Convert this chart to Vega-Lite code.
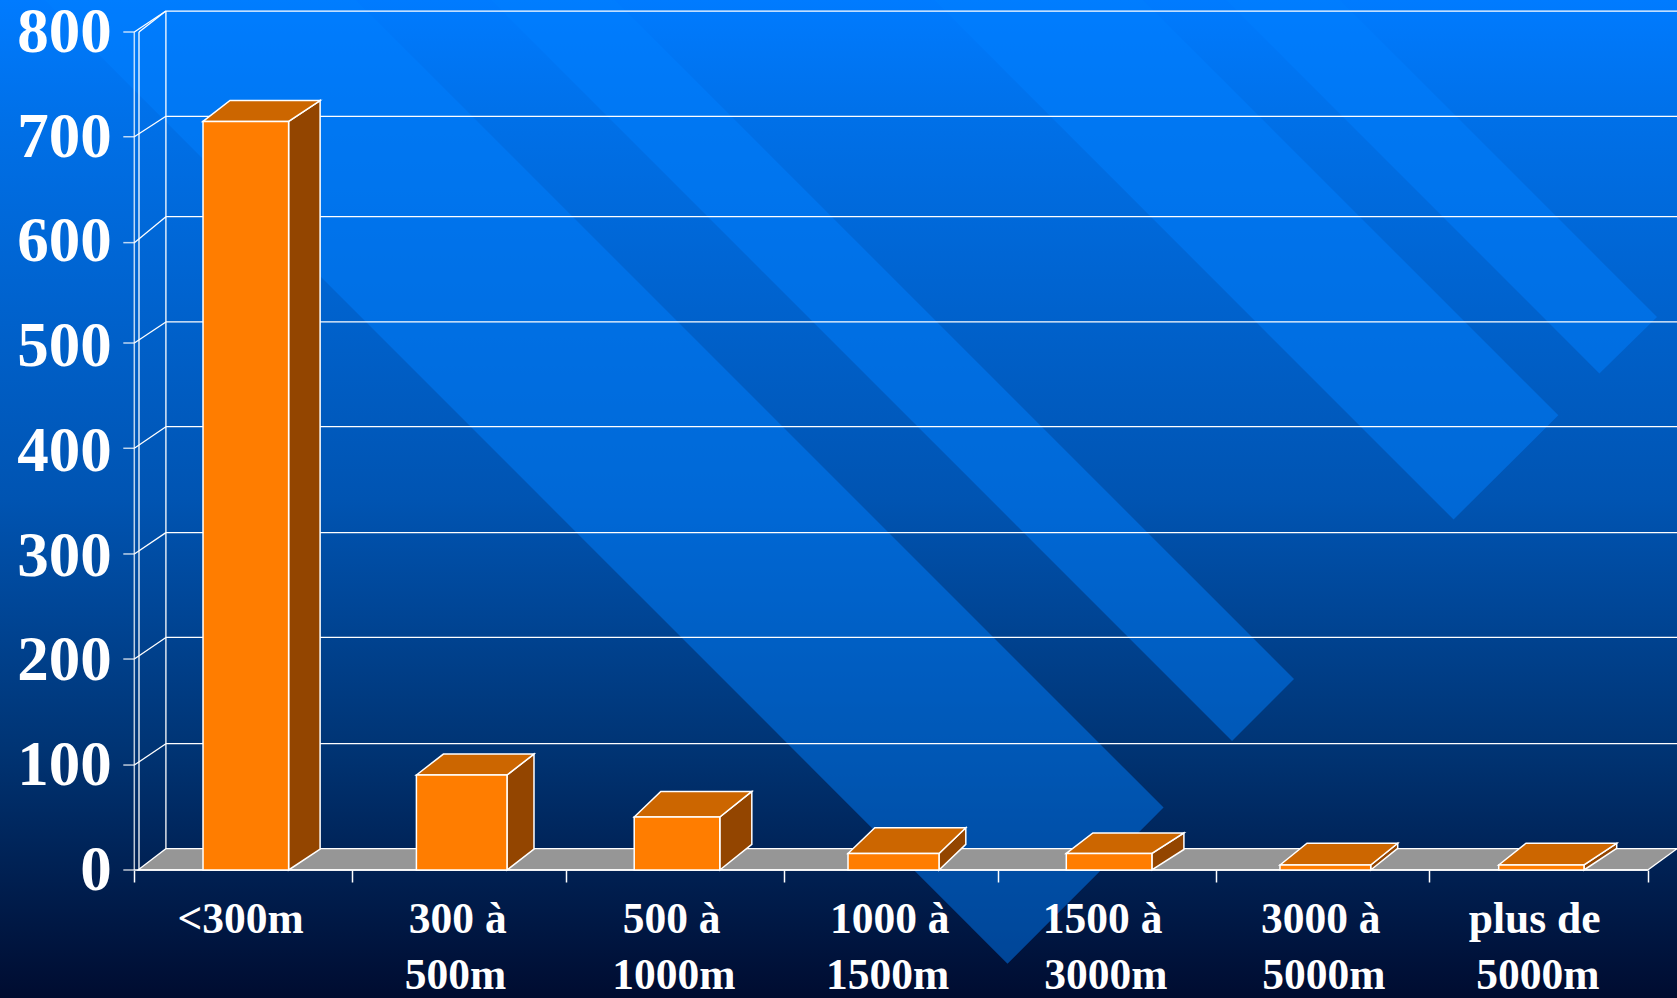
{"$schema":"https://vega.github.io/schema/vega-lite/v6.json","width":1677,"height":998,"autosize":{"type":"none"},"padding":0,"background":"#001030","config":{"view":{"stroke":null}},
"datasets":{
"panel":[{"x":-0.6212,"x2":7.1355,"y":830.55,"y2":-122.2}],
"bands":[
{"b":1,"x":-0.4172,"top":830.55,"bot":830.55},{"b":1,"x":1.0254,"top":830.55,"bot":532.7},{"b":1,"x":4.0389,"top":208.6,"bot":-89.4},{"b":1,"x":4.7608,"top":59.6,"bot":59.6},
{"b":2,"x":1.6499,"top":830.55,"bot":830.55},{"b":2,"x":2.2234,"top":830.55,"bot":712.2},{"b":2,"x":5.0773,"top":241.5,"bot":123.2},{"b":2,"x":5.364,"top":182.3,"bot":182.3},
{"b":3,"x":3.6991,"top":830.55,"bot":830.55},{"b":3,"x":4.666,"top":830.55,"bot":631},{"b":3,"x":6.1018,"top":534.1,"bot":334.6},{"b":3,"x":6.5865,"top":434.1,"bot":434.1},
{"b":4,"x":5.0495,"top":830.55,"bot":830.55},{"b":4,"x":5.5768,"top":830.55,"bot":721.7},{"b":4,"x":6.7766,"top":582.9,"bot":474.1},{"b":4,"x":7.043,"top":527.9,"bot":527.9}],
"frame":[
{"x":0.1462,"x2":7.1355,"y":820,"y2":820},{"x":0.1462,"x2":7.1355,"y":719.5,"y2":719.5},{"x":0.1462,"x2":7.1355,"y":623.7,"y2":623.7},{"x":0.1462,"x2":7.1355,"y":523.2,"y2":523.2},{"x":0.1462,"x2":7.1355,"y":423.2,"y2":423.2},{"x":0.1462,"x2":7.1355,"y":322.1,"y2":322.1},{"x":0.1462,"x2":7.1355,"y":222,"y2":222},{"x":0.1462,"x2":7.1355,"y":120.6,"y2":120.6},
{"x":0,"x2":0.1462,"y":800,"y2":820},{"x":0.0217,"x2":0.1462,"y":800,"y2":820},{"x":0,"x2":0.1462,"y":700,"y2":719.5},{"x":0,"x2":0.1462,"y":598.9,"y2":623.7},{"x":0,"x2":0.1462,"y":503.1,"y2":523.2},{"x":0,"x2":0.1462,"y":402.6,"y2":423.2},{"x":0,"x2":0.1462,"y":301.7,"y2":322.1},{"x":0,"x2":0.1462,"y":201.4,"y2":222},{"x":0,"x2":0.1462,"y":100.2,"y2":120.6},
{"x":0.0217,"x2":0.0217,"y":0,"y2":800},{"x":0.1462,"x2":0.1462,"y":20.33,"y2":820}],
"wall":[
{"x":0,"x2":0,"y":0,"y2":800},
{"x":-0.0509,"x2":0,"y":800,"y2":800},{"x":-0.0509,"x2":0,"y":700,"y2":700},{"x":-0.0509,"x2":0,"y":598.9,"y2":598.9},{"x":-0.0509,"x2":0,"y":503.1,"y2":503.1},{"x":-0.0509,"x2":0,"y":402.6,"y2":402.6},{"x":-0.0509,"x2":0,"y":301.7,"y2":301.7},{"x":-0.0509,"x2":0,"y":201.4,"y2":201.4},{"x":-0.0509,"x2":0,"y":100.2,"y2":100.2},{"x":-0.0509,"x2":0,"y":0,"y2":0}],
"floor":[{"x":0.0171,"top":0,"bot":0},{"x":0.1462,"top":20.33,"bot":0},{"x":7,"top":20.33,"bot":0},{"x":7.1355,"top":20.33,"bot":20.33}],
"base":[{"x":0,"x2":7,"y":0}],
"front":[
{"cat":"<300m","x":0.3178,"x2":0.7137,"value":714.6},{"cat":"300 à 500m","x":1.3048,"x2":1.7238,"value":90.7},{"cat":"500 à 1000m","x":2.3122,"x2":2.7081,"value":50.6},{"cat":"1000 à 1500m","x":3.3011,"x2":3.722,"value":15.8},{"cat":"1500 à 3000m","x":4.3108,"x2":4.7067,"value":15.8},{"cat":"3000 à 5000m","x":5.2992,"x2":5.7188,"value":4.8},{"cat":"plus de 5000m","x":6.3108,"x2":6.7053,"value":4.8}],
"side":[
{"c":1,"x":0.7137,"top":714.6,"bot":0},{"c":1,"x":0.8594,"top":734.6,"bot":20},
{"c":2,"x":1.7238,"top":90.7,"bot":0},{"c":2,"x":1.8487,"top":110.7,"bot":20},
{"c":3,"x":2.7081,"top":50.6,"bot":0},{"c":3,"x":2.8562,"top":75,"bot":24.4},
{"c":4,"x":3.722,"top":15.8,"bot":0},{"c":4,"x":3.846,"top":40.3,"bot":24.5},
{"c":5,"x":4.7067,"top":15.8,"bot":0},{"c":5,"x":4.8548,"top":35.4,"bot":19.6},
{"c":6,"x":5.7188,"top":4.8,"bot":0},{"c":6,"x":5.8437,"top":25.5,"bot":20.7},
{"c":7,"x":6.7053,"top":4.8,"bot":0},{"c":7,"x":6.8566,"top":25.5,"bot":20.7}],
"cap":[
{"c":1,"x":0.3178,"top":714.6,"bot":714.6},{"c":1,"x":0.4427,"top":734.6,"bot":714.6},{"c":1,"x":0.7137,"top":734.6,"bot":714.6},{"c":1,"x":0.8594,"top":734.6,"bot":734.6},
{"c":2,"x":1.3048,"top":90.7,"bot":90.7},{"c":2,"x":1.4297,"top":110.7,"bot":90.7},{"c":2,"x":1.7238,"top":110.7,"bot":90.7},{"c":2,"x":1.8487,"top":110.7,"bot":110.7},
{"c":3,"x":2.3122,"top":50.6,"bot":50.6},{"c":3,"x":2.4352,"top":75,"bot":50.6},{"c":3,"x":2.7081,"top":75,"bot":50.6},{"c":3,"x":2.8562,"top":75,"bot":75},
{"c":4,"x":3.3011,"top":15.8,"bot":15.8},{"c":4,"x":3.4251,"top":40.3,"bot":15.8},{"c":4,"x":3.722,"top":40.3,"bot":15.8},{"c":4,"x":3.846,"top":40.3,"bot":40.3},
{"c":5,"x":4.3108,"top":15.8,"bot":15.8},{"c":5,"x":4.4338,"top":35.4,"bot":15.8},{"c":5,"x":4.7067,"top":35.4,"bot":15.8},{"c":5,"x":4.8548,"top":35.4,"bot":35.4},
{"c":6,"x":5.2992,"top":4.8,"bot":4.8},{"c":6,"x":5.4241,"top":25.5,"bot":4.8},{"c":6,"x":5.7188,"top":25.5,"bot":4.8},{"c":6,"x":5.8437,"top":25.5,"bot":25.5},
{"c":7,"x":6.3108,"top":4.8,"bot":4.8},{"c":7,"x":6.4371,"top":25.5,"bot":4.8},{"c":7,"x":6.7053,"top":25.5,"bot":4.8},{"c":7,"x":6.8566,"top":25.5,"bot":25.5}],
"labels":[
{"x":0.4916,"y":-60.1,"t":"<300m"},
{"x":1.4958,"y":-60.1,"t":"300 à"},{"x":1.4861,"y":-113.4,"t":"500m"},
{"x":2.4853,"y":-60.1,"t":"500 à"},{"x":2.4954,"y":-113.4,"t":"1000m"},
{"x":3.4942,"y":-60.1,"t":"1000 à"},{"x":3.4847,"y":-113.4,"t":"1500m"},
{"x":4.4787,"y":-60.1,"t":"1500 à"},{"x":4.494,"y":-113.4,"t":"3000m"},
{"x":5.4878,"y":-60.1,"t":"3000 à"},{"x":5.5027,"y":-113.4,"t":"5000m"},
{"x":6.4773,"y":-60.1,"t":"plus de"},{"x":6.4921,"y":-113.4,"t":"5000m"}]
},
"layer":[
{"data":{"name":"panel"},"mark":{"type":"rect","color":{"gradient":"linear","x1":0,"y1":0,"x2":0,"y2":1,"stops":[{"offset":0,"color":"#007BFF"},{"offset":0.12,"color":"#0070E8"},{"offset":0.5,"color":"#0054B2"},{"offset":0.75,"color":"#003474"},{"offset":1,"color":"#000C30"}]}},
"encoding":{"x":{"field":"x","type":"quantitative","title":null,"scale":{"domain":[-0.6212,7.1355],"nice":false,"zero":false},"axis":{"orient":"bottom","offset":-128,"values":[0,1.009,1.995,3.005,3.995,5.003,5.989,7],"labels":false,"domain":false,"grid":false,"tickColor":"white","tickSize":12,"tickWidth":1.5,"zindex":1,"title":null}},
"x2":{"field":"x2"},
"y":{"field":"y","type":"quantitative","title":null,"scale":{"domain":[-122.2,830.55],"nice":false,"zero":false},"axis":{"orient":"left","offset":-134.3,"values":[0,100,200,300,400,500,600,700,800],"domain":false,"grid":false,"ticks":false,"labelPadding":23,"labelOffset":0.5,"labelFont":"Liberation Serif","labelFontWeight":"bold","labelFontSize":63,"labelColor":"white","labelBaseline":"middle","labelOverlap":false,"labelBound":false,"labelFlush":false,"zindex":1,"title":null}},
"y2":{"field":"y2"}}},
{"data":{"name":"bands"},"mark":{"type":"area","color":"#0080FF","opacity":0.48},"encoding":{"x":{"field":"x","type":"quantitative"},"y":{"field":"top","type":"quantitative"},"y2":{"field":"bot"},"detail":{"field":"b"}}},
{"data":{"name":"frame"},"mark":{"type":"rule","color":"white","strokeWidth":1.3},"encoding":{"x":{"field":"x","type":"quantitative"},"x2":{"field":"x2"},"y":{"field":"y","type":"quantitative"},"y2":{"field":"y2"}}},
{"data":{"name":"wall"},"mark":{"type":"rule","color":"white","strokeWidth":1.5,"opacity":0.75},"encoding":{"x":{"field":"x","type":"quantitative"},"x2":{"field":"x2"},"y":{"field":"y","type":"quantitative"},"y2":{"field":"y2"}}},
{"data":{"name":"floor"},"mark":{"type":"area","color":"#969696","stroke":"white","strokeWidth":1.3},"encoding":{"x":{"field":"x","type":"quantitative"},"y":{"field":"top","type":"quantitative"},"y2":{"field":"bot"}}},
{"data":{"name":"base"},"mark":{"type":"rule","color":"white","strokeWidth":1.5},"encoding":{"x":{"field":"x","type":"quantitative"},"x2":{"field":"x2"},"y":{"field":"y","type":"quantitative"}}},
{"data":{"name":"side"},"mark":{"type":"area","color":"#934500","stroke":"white","strokeWidth":1.5},"encoding":{"x":{"field":"x","type":"quantitative"},"y":{"field":"top","type":"quantitative"},"y2":{"field":"bot"},"detail":{"field":"c"}}},
{"data":{"name":"cap"},"mark":{"type":"area","color":"#CC6600","stroke":"white","strokeWidth":1.5},"encoding":{"x":{"field":"x","type":"quantitative"},"y":{"field":"top","type":"quantitative"},"y2":{"field":"bot"},"detail":{"field":"c"}}},
{"data":{"name":"front"},"mark":{"type":"rect","color":"#FF7D00","stroke":"white","strokeWidth":1.5},"encoding":{"x":{"field":"x","type":"quantitative"},"x2":{"field":"x2"},"y":{"field":"value","type":"quantitative"},"y2":{"datum":0}}},
{"data":{"name":"labels"},"mark":{"type":"text","font":"Liberation Serif","fontWeight":"bold","fontSize":43.5,"color":"white","align":"center","baseline":"alphabetic"},"encoding":{"x":{"field":"x","type":"quantitative"},"y":{"field":"y","type":"quantitative"},"text":{"field":"t"}}}
]}
